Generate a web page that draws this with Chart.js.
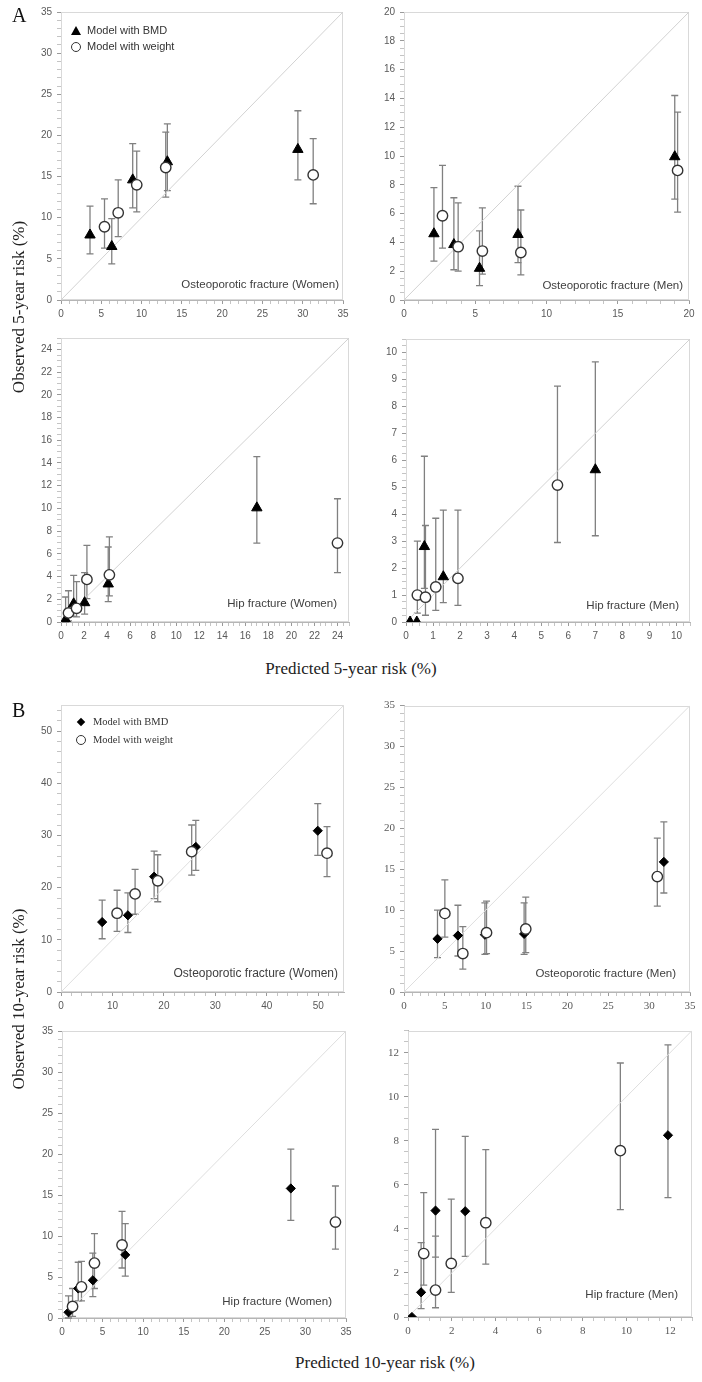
<!DOCTYPE html>
<html><head><meta charset="utf-8">
<script src="https://cdn.jsdelivr.net/npm/chart.js@4.4.1/dist/chart.umd.min.js"></script>
<style>
html,body{margin:0;padding:0;background:#fff;}
#page{position:relative;width:702px;height:1382px;overflow:hidden;font-family:"Liberation Sans",Arial,sans-serif;}
#page canvas{position:absolute;}
.lbl{position:absolute;font-size:11.5px;color:#404040;white-space:nowrap;line-height:1;}
.ttl{position:absolute;font-family:"Liberation Serif","Times New Roman",serif;font-size:17px;color:#222;white-space:nowrap;line-height:1;transform:translate(-50%,-50%);}
.vt{transform:translate(-50%,-50%) rotate(-90deg);}
.big{position:absolute;font-family:"Liberation Serif","Times New Roman",serif;font-size:20px;color:#111;line-height:1;}
.leg{position:absolute;white-space:nowrap;line-height:1;color:#333;}
.tri{position:absolute;width:0;height:0;border-left:5px solid transparent;border-right:5px solid transparent;border-bottom:9px solid #000;}
.cir{position:absolute;width:8px;height:8px;border:1.3px solid #333;border-radius:50%;background:#fff;}
.dia{position:absolute;width:6px;height:6px;background:#000;transform:rotate(45deg);}
</style></head>
<body><div id="page"></div>
<script>
// ---- data: rows are [predicted, observed, lowerCI, upperCI] ----
const A1_BMD = [[3.6,7.9,5.6,11.4],[6.3,6.5,4.4,9.9],[8.9,14.6,11.2,19.0],[13.2,16.8,13.3,21.4],[29.4,18.3,14.6,23.0]];
const A1_WT  = [[5.4,8.9,6.3,12.3],[7.1,10.6,7.7,14.6],[9.4,14.0,10.7,18.1],[13.0,16.1,12.5,20.4],[31.3,15.2,11.7,19.6]];
const A2_BMD = [[2.1,4.6,2.7,7.8],[3.5,3.85,2.1,7.1],[5.3,2.2,1.0,4.8],[8.0,4.55,2.6,7.9],[19.0,9.95,7.0,14.2]];
const A2_WT  = [[2.7,5.85,3.6,9.35],[3.8,3.7,2.0,6.75],[5.5,3.4,1.8,6.4],[8.2,3.3,1.75,6.25],[19.2,9.0,6.1,13.05]];
const A3_BMD = [[0.4,0.2,0,2.2],[1.1,1.6,0.5,4.1],[2.05,1.7,0.7,4.35],[4.1,3.35,1.8,6.6],[17.0,10.05,6.95,14.55]];
const A3_WT  = [[0.65,0.8,0.1,2.75],[1.35,1.2,0.45,3.55],[2.25,3.75,2.05,6.75],[4.2,4.15,2.3,7.5],[24.0,6.95,4.35,10.85]];
const A4_BMD = [[0.15,0,0,0],[0.4,0,0,0],[0.68,2.8,1.25,6.15],[1.38,1.68,0.72,4.15],[7.0,5.65,3.2,9.65]];
const A4_WT  = [[0.42,1.0,0.33,3.0],[0.72,0.92,0.25,3.58],[1.1,1.3,0.43,3.85],[1.92,1.62,0.62,4.15],[5.6,5.08,2.95,8.75]];
const B1_BMD = [[8.0,13.4,10.2,17.6],[13.0,14.7,11.4,19.0],[18.1,22.1,17.9,27.0],[26.2,27.8,23.3,32.9],[49.9,30.9,26.2,36.1]];
const B1_WT  = [[10.9,15.1,11.6,19.5],[14.4,18.8,14.9,23.5],[18.8,21.3,17.3,26.3],[25.4,26.9,22.4,32.0],[51.7,26.6,22.1,31.7]];
const B2_BMD = [[4.1,6.5,4.2,10.0],[6.6,6.9,4.4,10.6],[9.9,7.0,4.6,10.9],[14.7,7.1,4.6,10.9],[31.8,15.9,12.1,20.8]];
const B2_WT  = [[5.0,9.6,6.7,13.7],[7.2,4.7,2.8,8.0],[10.1,7.25,4.7,11.1],[14.9,7.7,4.8,11.6],[31.0,14.1,10.5,18.8]];
const B3_BMD = [[0.8,0.7,0,2.7],[2.0,3.6,2.1,6.8],[3.8,4.6,2.6,7.9],[7.8,7.7,5.1,11.5],[28.2,15.8,11.9,20.6]];
const B3_WT  = [[1.3,1.4,0.2,3.6],[2.4,3.8,2.1,6.9],[4.0,6.7,3.6,10.3],[7.4,8.9,6.1,13.0],[33.7,11.7,8.4,16.1]];
const B4_BMD = [[0.18,0,0,0],[0.6,1.12,0.38,3.38],[1.26,4.83,2.72,8.52],[2.62,4.8,2.75,8.2],[11.9,8.25,5.42,12.35]];
const B4_WT  = [[0.72,2.88,1.45,5.65],[1.26,1.22,0.42,3.67],[1.98,2.43,1.12,5.35],[3.56,4.28,2.4,7.6],[9.72,7.55,4.87,11.53]];

// axis ranges: [max, major step, minor step]
const A1_AX = [35,5,1],   A1_AY = [35,5,1];
const A2_AX = [20,5,1],   A2_AY = [20,2,0.5];
const A3_AX = [25,2,0.5], A3_AY = [25,2,0.5];
const A4_AX = [10.5,1,0.25], A4_AY = [10.5,1,0.25];
const B1_AX = [55,10,2],  B1_AY = [55,10,2];
const B2_AX = [35,5,1],   B2_AY = [35,5,1];
const B3_AX = [35,5,1],   B3_AY = [35,5,1];
const B4_AX = [13,2,0.5], B4_AY = [13,2,0.5];

const SERIES_NAMES = ['Model with BMD','Model with weight'];
const PANEL_TITLES = ['Osteoporotic fracture (Women)','Osteoporotic fracture (Men)','Hip fracture (Women)','Hip fracture (Men)'];

// ---- layout ----
const page = document.getElementById('page');
const SANS = {family:'Liberation Sans', size:10};
const SERIF = {family:'Liberation Serif', size:11};

const panels = [
  {plot:[61,11,343,300],  ax:A1_AX, ay:A1_AY, bmd:A1_BMD, wt:A1_WT, sym:'triangle', font:SANS,  title:0, tr:339, tc:285},
  {plot:[404,11,689,300], ax:A2_AX, ay:A2_AY, bmd:A2_BMD, wt:A2_WT, sym:'triangle', font:SANS,  title:1, tr:683, tc:286},
  {plot:[61,337,349,622], ax:A3_AX, ay:A3_AY, bmd:A3_BMD, wt:A3_WT, sym:'triangle', font:SANS,  title:2, tr:337, tc:604},
  {plot:[406,338,690,622],ax:A4_AX, ay:A4_AY, bmd:A4_BMD, wt:A4_WT, sym:'triangle', font:SANS,  title:3, tr:679, tc:606},
  {plot:[61,704,344,992], ax:B1_AX, ay:B1_AY, bmd:B1_BMD, wt:B1_WT, sym:'rectRot', font:SANS,  title:0, tr:338, tc:973},
  {plot:[404,704,690,992],ax:B2_AX, ay:B2_AY, bmd:B2_BMD, wt:B2_WT, sym:'rectRot', font:SERIF, title:1, tr:676, tc:974},
  {plot:[62,1030,346,1318],ax:B3_AX, ay:B3_AY, bmd:B3_BMD, wt:B3_WT, sym:'rectRot', font:SANS, title:2, tr:332, tc:1302},
  {plot:[408,1029,692,1317],ax:B4_AX, ay:B4_AY, bmd:B4_BMD, wt:B4_WT, sym:'rectRot', font:SERIF, title:3, tr:678, tc:1295}
];

const isMajor = (v, major) => Math.abs(v/major - Math.round(v/major)) < 1e-6;
const toPts = rows => rows.map(r => ({x:r[0], y:r[1], lo:r[2], hi:r[3]}));

const frame = {
  id:'frame',
  beforeDatasetsDraw(chart){
    const a = chart.chartArea, ctx = chart.ctx;
    ctx.save(); ctx.strokeStyle = '#d9d9d9'; ctx.lineWidth = 1;
    ctx.strokeRect(Math.round(a.left)+0.5, Math.round(a.top)+0.5, Math.round(a.right-a.left)-1, Math.round(a.bottom-a.top)-1);
    ctx.restore();
  }
};
const errorBars = {
  id:'errorBars',
  beforeDatasetsDraw(chart){
    const {ctx, scales:{x, y}} = chart;
    ctx.save(); ctx.strokeStyle = '#808080'; ctx.lineWidth = 1.3;
    chart.data.datasets.forEach(ds => {
      if (!ds.withErr) return;
      ds.data.forEach(p => {
        if (p.lo === p.hi) return;
        const px = x.getPixelForValue(p.x), t = y.getPixelForValue(p.hi), b = y.getPixelForValue(p.lo);
        ctx.beginPath();
        ctx.moveTo(px, t); ctx.lineTo(px, b);
        ctx.moveTo(px-3.5, t); ctx.lineTo(px+3.5, t);
        ctx.moveTo(px-3.5, b); ctx.lineTo(px+3.5, b);
        ctx.stroke();
      });
    });
    ctx.restore();
  }
};

function axis(cfg, font, isX, size){
  const [max, major, minor] = cfg;
  return {
    type:'linear', min:0, max:max,
    ticks:{stepSize:minor, autoSkip:false, maxRotation:0, minRotation:0, includeBounds:false,
      padding: isX ? 4 : 5, color:'#595959', font:font,
      callback:(v) => isMajor(v, major) ? String(Math.round(v)) : ''},
    grid:{drawOnChartArea:false, drawTicks:true, tickLength:4,
      tickColor:(c) => (c.tick && isMajor(c.tick.value, major)) ? '#9a9a9a' : '#c4c4c4'},
    border:{display:true, color:'#b5b5b5', width:1},
    afterFit:(s) => { if (isX) s.height = size; else s.width = size; }
  };
}

const AXW = 44, AXH = 26, PADT = 10, PADR = 14;
panels.forEach(p => {
  const [L,T,R,B] = p.plot;
  const cw = (R-L) + AXW + PADR, ch = (B-T) + PADT + AXH;
  const cv = document.createElement('canvas');
  cv.width = cw; cv.height = ch;
  cv.style.left = (L-AXW)+'px'; cv.style.top = (T-PADT)+'px';
  cv.style.width = cw+'px'; cv.style.height = ch+'px';
  page.appendChild(cv);
  const diagMax = Math.min(p.ax[0], p.ay[0]);
  const isB = p.sym === 'rectRot';
  new Chart(cv, {
    type:'scatter',
    data:{datasets:[
      {label:'diagonal', data:[{x:0,y:0},{x:diagMax,y:diagMax}], showLine:true,
       borderColor: isB ? '#dedede' : '#d2d2d2', borderWidth:1, pointRadius:0, order:5},
      {label:SERIES_NAMES[0], data:toPts(p.bmd), withErr:true, pointStyle:p.sym,
       pointRadius: isB ? 4.6 : 6, backgroundColor:'#000', borderColor:'#000', borderWidth:1, order:1},
      {label:SERIES_NAMES[1], data:toPts(p.wt), withErr:true, pointStyle:'circle',
       pointRadius:5.2, backgroundColor:'#fff', borderColor:'#333', borderWidth:1.4, order:0}
    ]},
    options:{
      responsive:false, animation:false, devicePixelRatio:1,
      layout:{padding:{top:PADT, right:PADR, left:0, bottom:0}},
      plugins:{legend:{display:false}, tooltip:{enabled:false}},
      scales:{x:axis(p.ax, p.font, true, AXH), y:axis(p.ay, p.font, false, AXW)}
    },
    plugins:[frame, errorBars]
  });
  const t = document.createElement('div');
  t.className = 'lbl';
  t.textContent = PANEL_TITLES[p.title];
  t.style.right = (702 - p.tr)+'px';
  t.style.top = (p.tc - 6)+'px';
  if (p === panels[4]) t.style.fontSize = '12px';
  page.appendChild(t);
});

function addEl(cls, text, styles){
  const d = document.createElement('div');
  d.className = cls; if (text) d.textContent = text;
  Object.assign(d.style, styles); page.appendChild(d); return d;
}
// panel letters
addEl('big','A',{left:'12px',top:'5px'});
addEl('big','B',{left:'12px',top:'700px'});
// axis titles
addEl('ttl vt','Observed 5-year risk (%)',{left:'18px',top:'307px'});
addEl('ttl','Predicted 5-year risk (%)',{left:'351px',top:'668px'});
addEl('ttl vt','Observed 10-year risk (%)',{left:'18px',top:'999px'});
addEl('ttl','Predicted 10-year risk (%)',{left:'385px',top:'1362px'});
// legend A
addEl('tri','',{left:'71px',top:'26px'});
addEl('leg',SERIES_NAMES[0],{left:'87px',top:'25px',fontSize:'11px',fontFamily:'Liberation Sans'});
addEl('cir','',{left:'71px',top:'42px'});
addEl('leg',SERIES_NAMES[1],{left:'87px',top:'41px',fontSize:'11px',fontFamily:'Liberation Sans'});
// legend B
addEl('dia','',{left:'78px',top:'719px'});
addEl('leg',SERIES_NAMES[0],{left:'93px',top:'717px',fontSize:'10.5px',fontFamily:'Liberation Serif'});
addEl('cir','',{left:'76px',top:'735px'});
addEl('leg',SERIES_NAMES[1],{left:'93px',top:'735px',fontSize:'10.5px',fontFamily:'Liberation Serif'});
</script>
</body></html>
